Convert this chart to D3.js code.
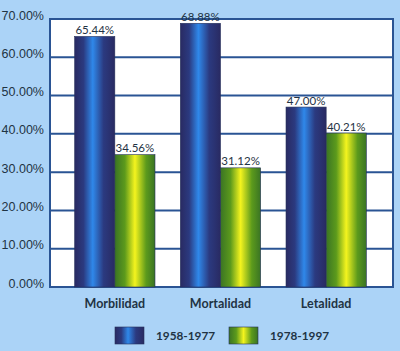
<!DOCTYPE html>
<html>
<head>
<meta charset="utf-8">
<script src="https://cdn.jsdelivr.net/npm/d3@7"></script>
<style>
  html, body { margin: 0; padding: 0; background: #abd3f7; }
  svg { display: block; }
</style>
</head>
<body>
<div id="chart"></div>
<script>
// Morbilidad / Mortalidad / Letalidad - two periods

const categories = ["Morbilidad", "Mortalidad", "Letalidad"];
const seriesNames = ["1958-1977", "1978-1997"];
const values1958 = [65.44, 68.88, 47.00];
const values1978 = [34.56, 31.12, 40.21];
const yTicks = [0, 10, 20, 30, 40, 50, 60, 70];

const W = 400, H = 351;
const plot = { left: 50, right: 393, top: 19, bottom: 287 };
const textColor = "#1f3344";
const lineBlue = "#2a5494";

const svg = d3.select("#chart").append("svg")
  .attr("width", W)
  .attr("height", H)
  .style("font-family", "Lato, 'Open Sans', sans-serif");

svg.append("rect")
  .attr("width", W).attr("height", H)
  .attr("fill", "#abd3f7");

const defs = svg.append("defs");

const blueGrad = defs.append("linearGradient").attr("id", "gBlue")
  .attr("x1", "0%").attr("x2", "100%").attr("y1", "0%").attr("y2", "0%");
blueGrad.append("stop").attr("offset", "0%").attr("stop-color", "#292a62");
blueGrad.append("stop").attr("offset", "22%").attr("stop-color", "#2b3a80");
blueGrad.append("stop").attr("offset", "45%").attr("stop-color", "#2f88ea");
blueGrad.append("stop").attr("offset", "72%").attr("stop-color", "#2b3a80");
blueGrad.append("stop").attr("offset", "100%").attr("stop-color", "#292a62");

const greenGrad = defs.append("linearGradient").attr("id", "gGreen")
  .attr("x1", "0%").attr("x2", "100%").attr("y1", "0%").attr("y2", "0%");
greenGrad.append("stop").attr("offset", "0%").attr("stop-color", "#3a7424");
greenGrad.append("stop").attr("offset", "25%").attr("stop-color", "#5c9a1c");
greenGrad.append("stop").attr("offset", "50%").attr("stop-color", "#f4f41e");
greenGrad.append("stop").attr("offset", "78%").attr("stop-color", "#5c9a1c");
greenGrad.append("stop").attr("offset", "100%").attr("stop-color", "#3a7424");

const x = d3.scaleBand()
  .domain(categories)
  .range([62, 379])
  .paddingInner(0.24)
  .paddingOuter(0.12);

const xSeries = d3.scaleBand()
  .domain(seriesNames)
  .range([0, x.bandwidth()])
  .padding(0);

const y = d3.scaleLinear()
  .domain([0, 70])
  .range([plot.bottom, plot.top]);

// plot area
svg.append("rect")
  .attr("x", plot.left)
  .attr("y", plot.top)
  .attr("width", plot.right - plot.left)
  .attr("height", plot.bottom - plot.top)
  .attr("fill", "#ffffff");

// gridlines
svg.append("g")
  .selectAll("line")
  .data(yTicks.slice(1, -1))
  .join("line")
  .attr("x1", plot.left)
  .attr("x2", plot.right)
  .attr("y1", d => y(d))
  .attr("y2", d => y(d))
  .attr("stroke", lineBlue)
  .attr("stroke-width", 2);

svg.append("rect")
  .attr("x", plot.left)
  .attr("y", plot.top)
  .attr("width", plot.right - plot.left)
  .attr("height", plot.bottom - plot.top)
  .attr("fill", "none")
  .attr("stroke", lineBlue)
  .attr("stroke-width", 2);

// y axis labels
const yAxis = d3.axisLeft(y)
  .tickValues(yTicks)
  .tickSize(0)
  .tickPadding(6)
  .tickFormat(d => d.toFixed(2) + "%");

svg.append("g")
  .attr("transform", `translate(${plot.left},0)`)
  .call(yAxis)
  .call(g => g.select(".domain").remove())
  .call(g => g.selectAll("text")
    .attr("dy", "0")
    .attr("fill", textColor)
    .attr("font-size", "12.5px"));

// bars
const rows = categories.map((c, i) => ({
  cat: c,
  vals: [
    { s: seriesNames[0], v: values1958[i], fill: "url(#gBlue)" },
    { s: seriesNames[1], v: values1978[i], fill: "url(#gGreen)" }
  ]
}));

const groups = svg.append("g")
  .selectAll("g")
  .data(rows)
  .join("g")
  .attr("transform", d => `translate(${x(d.cat)},0)`);

groups.selectAll("rect")
  .data(d => d.vals)
  .join("rect")
  .attr("x", d => xSeries(d.s))
  .attr("y", d => y(d.v))
  .attr("width", xSeries.bandwidth())
  .attr("height", d => y(0) - y(d.v))
  .attr("fill", d => d.fill)
  .attr("stroke", "#25305a")
  .attr("stroke-width", 0.6);

groups.selectAll("text")
  .data(d => d.vals)
  .join("text")
  .attr("x", d => xSeries(d.s) + xSeries.bandwidth() / 2)
  .attr("y", d => y(d.v) - 2.5)
  .attr("text-anchor", "middle")
  .attr("fill", textColor)
  .attr("font-size", "11.5px")
  .text(d => d.v.toFixed(2) + "%");

// category labels
svg.append("g")
  .selectAll("text")
  .data(categories)
  .join("text")
  .attr("x", d => x(d) + x.bandwidth() / 2)
  .attr("y", 308)
  .attr("text-anchor", "middle")
  .attr("fill", textColor)
  .attr("font-size", "12.5px")
  .attr("font-weight", "bold")
  .text(d => d);

// legend
const legendX = [115, 229];
const legend = svg.append("g")
  .selectAll("g")
  .data(seriesNames)
  .join("g")
  .attr("transform", (d, i) => `translate(${legendX[i]},327)`);

legend.append("rect")
  .attr("width", 29)
  .attr("height", 17)
  .attr("fill", (d, i) => i === 0 ? "url(#gBlue)" : "url(#gGreen)")
  .attr("stroke", "#25305a")
  .attr("stroke-width", 0.6);

legend.append("text")
  .attr("x", 41)
  .attr("y", 13)
  .attr("fill", textColor)
  .attr("font-size", "11.8px")
  .attr("font-weight", "bold")
  .text(d => d);
</script>
</body>
</html>
